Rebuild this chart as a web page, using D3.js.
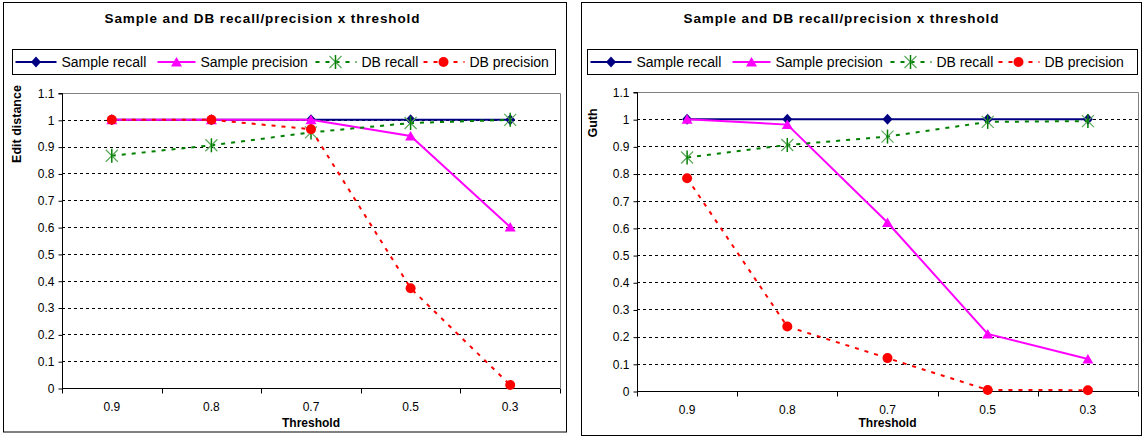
<!DOCTYPE html>
<html>
<head>
<meta charset="utf-8">
<script src="https://cdn.jsdelivr.net/npm/d3@7"></script>
<style>
  body { margin: 0; background: #fff; }
  svg text { font-family: "Liberation Sans", Arial, sans-serif; }
</style>
</head>
<body>
<div id="chart"></div>
<script>
;(function () {

    // categories and ticks
    var thresholds = ['0.9', '0.8', '0.7', '0.5', '0.3'];
    var yTicks = [0, 0.1, 0.2, 0.3, 0.4, 0.5, 0.6, 0.7, 0.8, 0.9, 1, 1.1];
    var seriesNames = ['Sample recall', 'Sample precision', 'DB recall', 'DB precision'];

    // left panel: Edit distance
    var editSampleRecall = [1, 1, 1, 1, 1];
    var editSamplePrecision = [1, 1, 1, 0.94, 0.6];
    var editDbRecall = [0.866, 0.905, 0.953, 0.988, 1];
    var editDbPrecision = [1, 1, 0.965, 0.372, 0.011];

    // right panel: Guth
    var guthSampleRecall = [1, 1, 1, 1, 1];
    var guthSamplePrecision = [1, 0.98, 0.62, 0.21, 0.118];
    var guthDbRecall = [0.859, 0.905, 0.936, 0.99, 0.993];
    var guthDbPrecision = [0.783, 0.237, 0.121, 0.004, 0.003];

    var width = 1143, height = 436;

    var styles = [
        { color: '#000080', dash: null, marker: 'diamond' },
        { color: '#ff00ff', dash: null, marker: 'triangle' },
        { color: '#008000', dash: '4,6', marker: 'star' },
        { color: '#ff0000', dash: '4,6', marker: 'circle' }
    ];

    // legend item layout, relative to the legend box
    var legendLineX = [3, 145, 302, 410];
    var legendTextX = [49, 188, 349, 457];

    var svg = d3.select('#chart').append('svg')
        .attr('width', width)
        .attr('height', height);

    function drawMarker(g, type, color) {
        if (type == 'diamond') {
            g.append('path').attr('d', 'M0,-5.5L5,0L0,5.5L-5,0Z').attr('fill', color);
        } else if (type == 'triangle') {
            g.append('path').attr('d', 'M0,-5L5.5,4.5L-5.5,4.5Z').attr('fill', color);
        } else if (type == 'circle') {
            g.append('circle').attr('r', 5).attr('fill', color);
        } else if (type == 'star') {
            g.append('path').attr('d', 'M-6,-6L6,6M-6,6L6,-6')
                .attr('stroke', '#5aa85a').attr('stroke-width', 1.2).attr('fill', 'none');
            g.append('path').attr('d', 'M0,-7L0,7')
                .attr('stroke', color).attr('stroke-width', 1.5);
        }
    }

    function drawPanel(p) {
        var g = svg.append('g');

        // chart frame
        g.append('rect')
            .attr('x', p.frame[0]).attr('y', p.frame[1])
            .attr('width', p.frame[2]).attr('height', p.frame[3])
            .attr('fill', '#fff').attr('stroke', '#000').attr('stroke-width', 1);

        g.append('text')
            .attr('x', p.titleX).attr('y', 23)
            .attr('text-anchor', 'middle')
            .attr('font-size', 13.5).attr('font-weight', 'bold')
            .attr('textLength', 315).attr('lengthAdjust', 'spacing')
            .text('Sample and DB recall/precision x threshold');

        var x = d3.scaleBand().domain(thresholds).range([p.left, p.right]);
        var y = d3.scaleLinear().domain([0, 1.1]).range([p.bottom, p.top]);

        // grid lines
        g.selectAll('.grid')
            .data(yTicks.filter(function (d) { return d > 0 && d < 1.1; }))
            .enter().append('line')
            .attr('x1', p.left).attr('x2', p.right)
            .attr('y1', function (d) { return Math.round(y(d)) + 0.5; })
            .attr('y2', function (d) { return Math.round(y(d)) + 0.5; })
            .attr('stroke', '#000').attr('stroke-dasharray', '3,3');

        // top / right border of plot area
        g.append('path')
            .attr('d', 'M' + p.left + ',' + (Math.round(p.top) + 0.5) + 'H' + (p.right + 0.5) + 'V' + p.bottom)
            .attr('fill', 'none').attr('stroke', '#808080');

        // y axis
        var yAxis = d3.axisLeft(y).tickValues(yTicks).tickSize(4).tickPadding(4)
            .tickFormat(function (d) { return d3.format('.1~f')(d); });
        var ya = g.append('g').attr('transform', 'translate(' + (p.left + 0.5) + ',0.5)').call(yAxis);
        ya.selectAll('text').attr('font-size', 12).attr('fill', '#000');
        ya.selectAll('line').attr('stroke', '#000');
        ya.select('.domain').attr('stroke', '#000').attr('d', 'M-4,' + y(1.1) + 'H0V' + y(0));

        // x axis
        var xAxis = d3.axisBottom(x).tickSize(0).tickPadding(14);
        var xa = g.append('g').attr('transform', 'translate(0,' + (p.bottom + 0.5) + ')').call(xAxis);
        xa.selectAll('text').attr('font-size', 12).attr('fill', '#000');
        xa.select('.domain').attr('stroke', '#000').attr('d', 'M' + p.left + ',0H' + p.right);
        var bounds = thresholds.map(function (t) { return x(t); }).concat([p.right]);
        xa.selectAll('.btick').data(bounds).enter().append('line')
            .attr('x1', function (d) { return Math.round(d) + 0.5; })
            .attr('x2', function (d) { return Math.round(d) + 0.5; })
            .attr('y1', 0).attr('y2', 5).attr('stroke', '#000');

        // axis titles
        g.append('text')
            .attr('x', (p.left + p.right) / 2).attr('y', 427)
            .attr('text-anchor', 'middle').attr('font-size', 12).attr('font-weight', 'bold')
            .text('Threshold');
        g.append('text')
            .attr('transform', 'translate(' + p.yLabelX + ',' + p.yLabelY + ') rotate(-90)')
            .attr('text-anchor', 'middle').attr('font-size', 12.5).attr('font-weight', 'bold')
            .text(p.yLabel);

        var line = d3.line()
            .x(function (d, i) { return x(thresholds[i]) + x.bandwidth() / 2; })
            .y(function (d) { return y(d); });

        p.series.forEach(function (values, si) {
            var st = styles[si];
            g.append('path')
                .datum(values)
                .attr('d', line)
                .attr('fill', 'none')
                .attr('stroke', st.color)
                .attr('stroke-width', 2)
                .attr('stroke-dasharray', st.dash);
            values.forEach(function (v, i) {
                var m = g.append('g').attr('transform',
                    'translate(' + (x(thresholds[i]) + x.bandwidth() / 2) + ',' + y(v) + ')');
                drawMarker(m, st.marker, st.color);
            });
        });

        // legend
        var lg = g.append('g');
        lg.append('rect')
            .attr('x', p.legend[0]).attr('y', p.legend[1])
            .attr('width', p.legend[2]).attr('height', p.legend[3])
            .attr('fill', '#fff').attr('stroke', '#000');
        seriesNames.forEach(function (name, si) {
            var st = styles[si];
            var x0 = p.legend[0] + legendLineX[si], cy = p.legend[1] + 12.5;
            var x1 = p.legend[0] + legendTextX[si] - 5;
            lg.append('line')
                .attr('x1', x0).attr('x2', x1)
                .attr('y1', cy).attr('y2', cy)
                .attr('stroke', st.color).attr('stroke-width', 2)
                .attr('stroke-dasharray', st.dash ? '4,6' : null)
                .attr('stroke-dashoffset', st.dash ? -1 : null);
            drawMarker(lg.append('g').attr('transform', 'translate(' + ((x0 + x1) / 2) + ',' + cy + ')'), st.marker, st.color);
            lg.append('text')
                .attr('x', p.legend[0] + legendTextX[si]).attr('y', cy + 5)
                .attr('font-size', 14)
                .text(name);
        });
    }

    drawPanel({
        frame: [3.5, 2.5, 563, 429.5],
        titleX: 262,
        left: 62, right: 560, top: 93, bottom: 388,
        legend: [12.5, 49.5, 543, 25],
        yLabel: 'Edit distance', yLabelX: 21, yLabelY: 124,
        series: [editSampleRecall, editSamplePrecision, editDbRecall, editDbPrecision]
    });

    drawPanel({
        frame: [581.5, 2.5, 560, 433],
        titleX: 841,
        left: 637, right: 1138, top: 92, bottom: 391,
        legend: [587.5, 49.5, 550, 25],
        yLabel: 'Guth', yLabelX: 597, yLabelY: 123,
        series: [guthSampleRecall, guthSamplePrecision, guthDbRecall, guthDbPrecision]
    });

}());
</script>
</body>
</html>
